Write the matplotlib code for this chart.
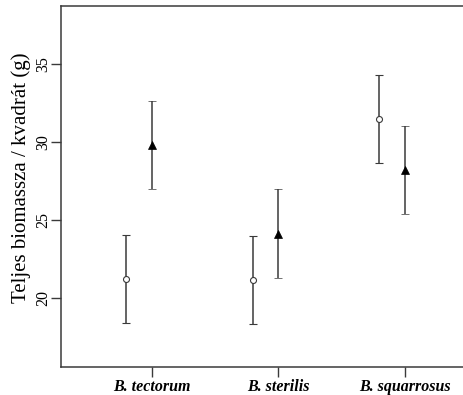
import matplotlib.pyplot as plt
import numpy as np

species = ["B. tectorum", "B. sterilis", "B. squarrosus"]

# open circles (left of each tick) and filled triangles (on the tick)
circle_mean = [21.25, 21.2, 31.5]
circle_err = [2.83, 2.82, 2.8]
tri_mean = [29.82, 24.15, 28.2]
tri_err = [2.82, 2.84, 2.82]

plt.rcParams["font.family"] = ["Liberation Serif", "DejaVu Serif"]

fig = plt.figure(figsize=(4.64, 3.95), dpi=100)
ax = fig.add_axes([60.7 / 464, 1 - 366.7 / 395, (468 - 60.7) / 464, (366.7 - 6) / 395])

x = np.arange(1, len(species) + 1)
lc = "#3a3a3a"

ax.errorbar(x - 0.205, circle_mean, yerr=circle_err, fmt="o", mfc="white", mec=lc,
            ms=4.3, mew=0.8, ecolor=lc, elinewidth=1.1, capsize=3.2, capthick=1.1)
ax.errorbar(x, tri_mean, yerr=tri_err, fmt="^", color="black", ms=5.6, mew=0.5,
            ecolor=lc, elinewidth=1.1, capsize=3.2, capthick=1.1)

ax.set_xlim(0.276, 3.5)
ax.set_ylim(15.62, 38.74)
ax.set_xticks(x)
ax.set_xticklabels(species, fontsize=11.5, fontweight="bold", fontstyle="italic")
ax.set_yticks([20, 25, 30, 35])
ax.set_yticklabels(["20", "25", "30", "35"], rotation=90, va="center", fontsize=11.5)
ax.tick_params(direction="out", length=7, width=1, color=lc, pad=0)
ax.tick_params(axis="x", pad=1.5)
for s in ax.spines.values():
    s.set_color(lc)
    s.set_linewidth(1.1)

ax.set_ylabel("Teljes biomassza / kvadrát (g)", fontsize=15)
ax.yaxis.set_label_coords(-0.072, 0.525)

fig.savefig("out.png", dpi=100)
